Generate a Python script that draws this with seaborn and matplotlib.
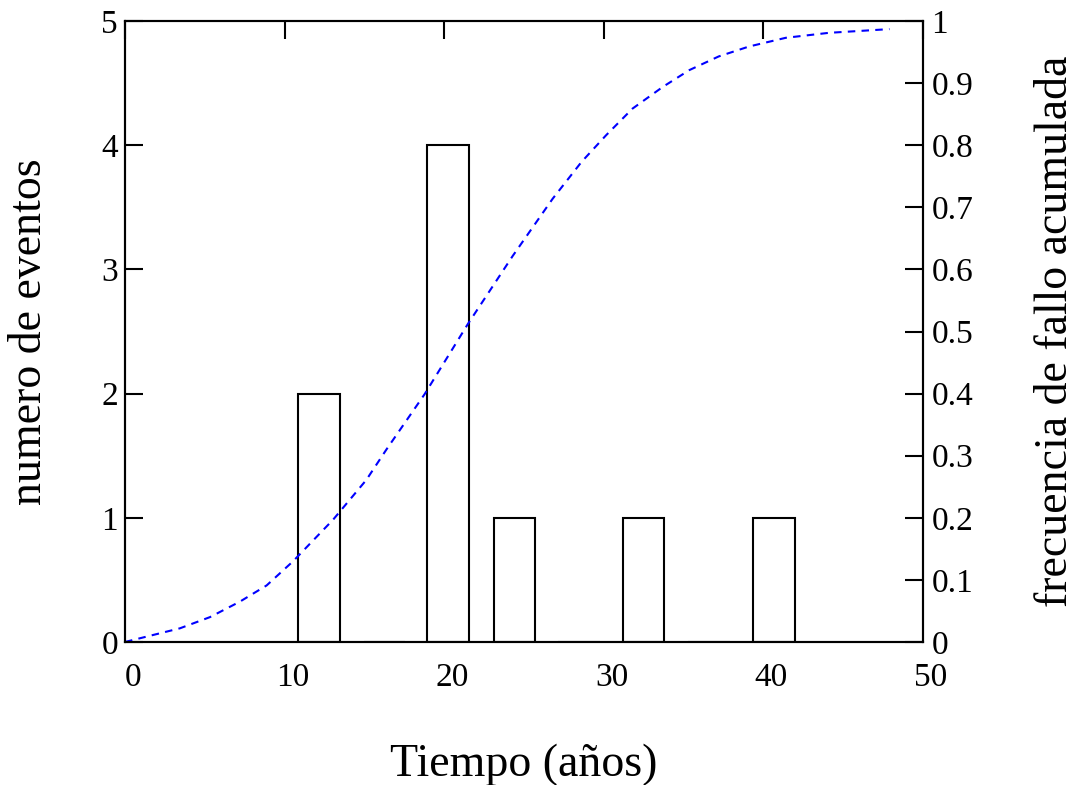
import numpy as np
import pandas as pd
import matplotlib
matplotlib.use("Agg")
import matplotlib.pyplot as plt
import matplotlib.transforms as mtransforms
import seaborn as sns

# histograma: centro de cada clase (años) y numero de eventos
bin_centers = [12.15, 16.25, 20.25, 24.4, 28.45, 32.5, 36.6, 40.65]
event_counts = [2, 0, 4, 1, 0, 1, 0, 1]

# frecuencia de fallo acumulada
t_years = [0, 3.44, 5.32, 7.2, 8.87, 10.53, 13.04, 15.12, 16.38, 18.77, 21.48,
           24.3, 26.8, 28.6, 30.14, 31.8, 33.7, 35.36, 37.2, 39.1, 41.4, 44.1, 47.9]
cum_freq = [0, 0.022, 0.040, 0.065, 0.091, 0.130, 0.197, 0.261, 0.310, 0.399, 0.512,
            0.622, 0.714, 0.773, 0.816, 0.859, 0.894, 0.921, 0.943, 0.959, 0.973, 0.981, 0.987]

x_ticks = [0, 10, 20, 30, 40, 50]
left_ticks = [0, 1, 2, 3, 4, 5]
right_ticks = [0, 0.1, 0.2, 0.3, 0.4, 0.5, 0.6, 0.7, 0.8, 0.9, 1]
right_labels = ["0", "0.1", "0.2", "0.3", "0.4", "0.5", "0.6", "0.7", "0.8", "0.9", "1"]

sns.set_theme(style="white")
plt.rcParams["font.family"] = ["Liberation Serif", "DejaVu Serif"]
plt.rcParams["text.color"] = "black"
plt.rcParams["axes.labelcolor"] = "black"

fig, ax = plt.subplots(figsize=(10.75, 7.85), dpi=100)
fig.subplots_adjust(left=0.1163, right=0.8586, top=0.9732, bottom=0.1822)

df = pd.DataFrame({"t": bin_centers, "n": event_counts})
min_gap = np.min(np.diff(bin_centers))
sns.barplot(data=df, x="t", y="n", native_scale=True, width=2.6 / min_gap,
            fill=False, color="black", linewidth=1.5, errorbar=None, ax=ax)

ax.set_xlim(0, 50)
ax.set_ylim(0, 5)
ax.set_xticks(x_ticks)
ax.set_xticklabels([str(v) for v in x_ticks])
ax.set_yticks(left_ticks)
ax.set_yticklabels([str(v) for v in left_ticks])

ax2 = ax.twinx()
sns.lineplot(x=t_years, y=cum_freq, ax=ax2, color="blue", linewidth=1.5)
ax2.lines[0].set_dashes((3.6, 3.0))
ax2.set_ylim(0, 1)
ax2.set_yticks(right_ticks)
ax2.set_yticklabels(right_labels)

for a in (ax, ax2):
    for s in a.spines.values():
        s.set_linewidth(1.5)
        s.set_color("black")

ax.tick_params(axis="both", direction="in", length=13, width=1.5, labelsize=24,
               top=True, right=False, colors="black")
ax.tick_params(axis="x", pad=15)
ax.tick_params(axis="y", pad=5)
ax2.tick_params(axis="y", direction="in", length=13, width=1.5, labelsize=24,
                pad=6, colors="black")

# en el original los numeros del eje x estan corridos un poco a la derecha
offset = mtransforms.ScaledTranslation(0.08, 0, fig.dpi_scale_trans)
for lab in ax.get_xticklabels():
    lab.set_transform(lab.get_transform() + offset)

ax.set_xlabel("Tiempo (años)", fontsize=33, labelpad=36)
ax.set_ylabel("numero de eventos", fontsize=33, labelpad=36)
ax2.set_ylabel("frecuencia de fallo acumulada", fontsize=33, labelpad=44)

fig.savefig("out.png", dpi=100)
